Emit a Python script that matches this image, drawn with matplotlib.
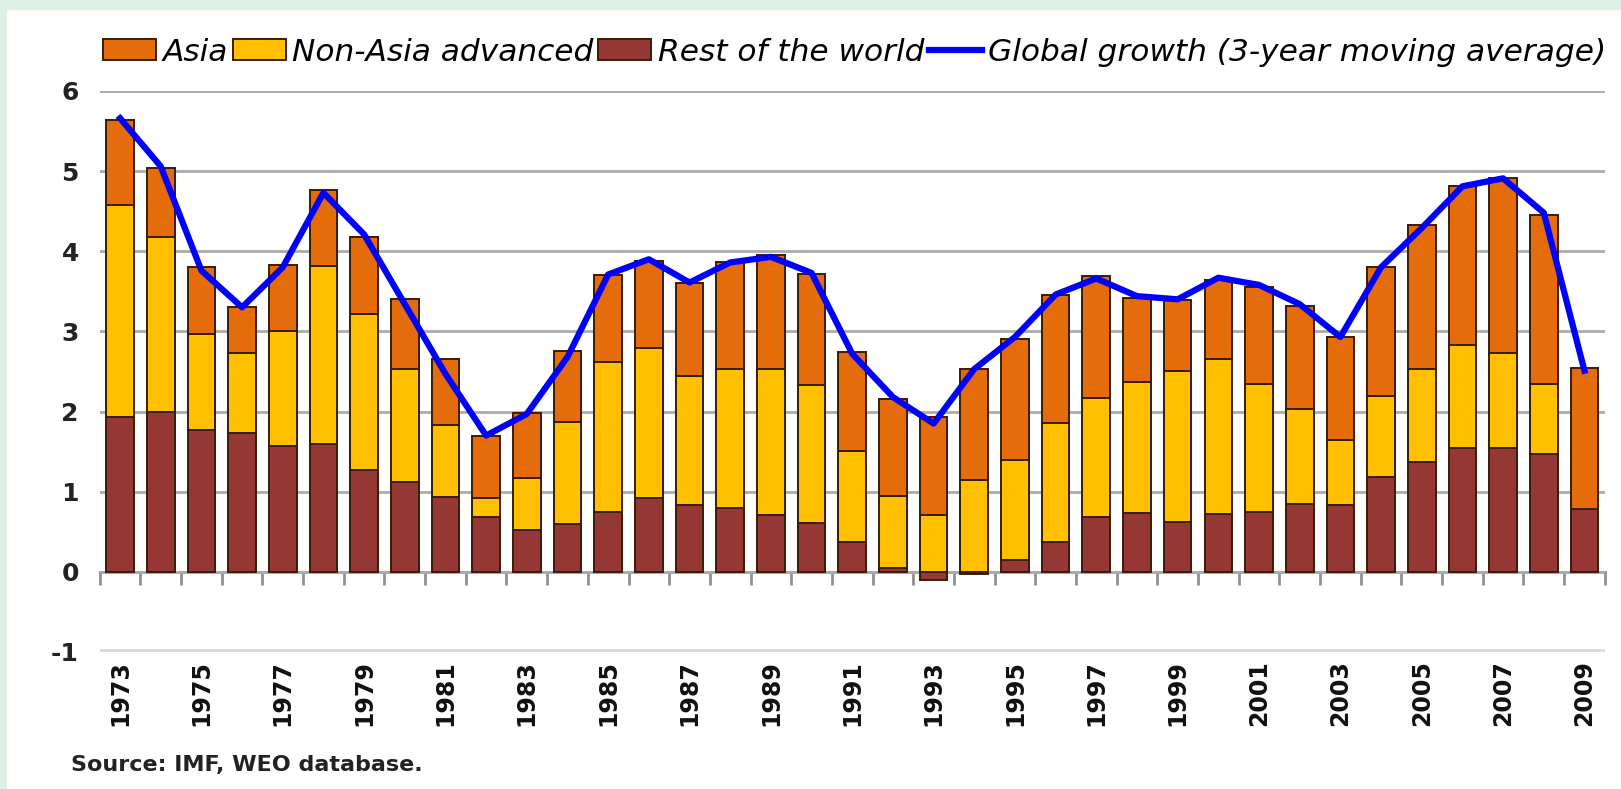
import numpy as np
import matplotlib
matplotlib.use("Agg")
import matplotlib.pyplot as plt
from matplotlib.patches import Patch, Rectangle
from matplotlib.lines import Line2D

plt.rcParams['font.family'] = ['DejaVu Sans']
plt.rcParams['axes.unicode_minus'] = False

# datos
years = list(range(1973, 2010))
asia = [1.06, 0.86, 0.83, 0.57, 0.83, 0.94, 0.96, 0.87, 0.83, 0.77, 0.81,
        0.89, 1.08, 1.09, 1.16, 1.33, 1.42, 1.39, 1.23, 1.21, 1.22, 1.39,
        1.51, 1.59, 1.52, 1.05, 0.89, 0.98, 1.21, 1.29, 1.29, 1.60, 1.80,
        1.98, 2.19, 2.11, 1.76]
non_asia = [2.65, 2.19, 1.20, 1.00, 1.43, 2.23, 1.95, 1.41, 0.90, 0.24, 0.65,
            1.27, 1.87, 1.87, 1.61, 1.73, 1.82, 1.72, 1.14, 0.90, 0.71, 1.14,
            1.24, 1.49, 1.48, 1.64, 1.88, 1.94, 1.59, 1.18, 0.81, 1.02, 1.16,
            1.29, 1.19, 0.87, 0.00]
rest = [1.93, 1.99, 1.77, 1.73, 1.57, 1.59, 1.27, 1.12, 0.93, 0.68, 0.52,
        0.60, 0.75, 0.92, 0.83, 0.80, 0.71, 0.61, 0.37, 0.05, -0.10, -0.03,
        0.15, 0.37, 0.69, 0.73, 0.62, 0.72, 0.75, 0.85, 0.83, 1.18, 1.37,
        1.54, 1.54, 1.47, 0.78]
global_growth = [5.66, 5.06, 3.76, 3.30, 3.80, 4.73, 4.21, 3.34, 2.47, 1.70,
                 1.97, 2.68, 3.71, 3.90, 3.61, 3.86, 3.93, 3.73, 2.72, 2.18,
                 1.85, 2.53, 2.93, 3.46, 3.66, 3.44, 3.40, 3.67, 3.58, 3.34,
                 2.93, 3.80, 4.29, 4.81, 4.91, 4.48, 2.51]

labels = ['Asia', 'Non-Asia advanced', 'Rest of the world',
          'Global growth (3-year moving average)']
colores = ['#E46C0A', '#FFC000', '#953735']

fig = plt.figure(figsize=(16.21, 7.89), dpi=100, facecolor='white')
# marco verde claro
fig.add_artist(Rectangle((0, 0.988), 1, 0.012, transform=fig.transFigure,
                         color='#ddf0e6', zorder=0))
fig.add_artist(Rectangle((0, 0), 0.004, 1, transform=fig.transFigure,
                         color='#ddf0e6', zorder=0))

ax = fig.add_axes([0.0615, 0.1737, 0.9285, 0.711])
x = np.arange(len(years))

# barras apiladas (negativos por debajo del cero)
pos_base = np.zeros(len(years))
neg_base = np.zeros(len(years))
for serie, col in [(rest, colores[2]), (non_asia, colores[1]), (asia, colores[0])]:
    v = np.array(serie)
    base = np.where(v >= 0, pos_base, neg_base)
    ax.bar(x, v, bottom=base, width=0.68, color=col, edgecolor='#3a1c05',
           linewidth=1.4, zorder=2)
    pos_base = pos_base + np.where(v >= 0, v, 0)
    neg_base = neg_base + np.where(v < 0, v, 0)

ax.plot(x, global_growth, color='#0000FF', lw=4.5, solid_joinstyle='round',
        zorder=4)

ax.set_xlim(-0.5, len(years) - 0.5)
ax.set_ylim(-1, 6)
ax.set_yticks(range(-1, 7))
ax.yaxis.grid(True, color='#ababab', lw=2, zorder=0)
ax.set_axisbelow(True)
ax.get_ygridlines()[0].set_color('#dcdcdc')
ax.get_ygridlines()[0].set_linewidth(5)
for s in ax.spines.values():
    s.set_visible(False)

ax.tick_params(axis='y', length=0, pad=15, labelsize=18)
for t in ax.get_yticklabels():
    t.set_fontweight('bold')
    t.set_color('#222222')

ax.set_xticks(x[::2])
ax.set_xticklabels([str(y) for y in years[::2]], rotation=90, fontsize=17,
                   fontweight='bold', color='#111111')
ax.tick_params(axis='x', length=0, pad=6)

# eje en el cero con marcas entre barras
sec = ax.secondary_xaxis(1 / 7)
sec.set_xticks(np.arange(len(years) + 1) - 0.5)
sec.set_xticklabels([])
sec.tick_params(axis='x', direction='out', length=9, width=2, color='#909090')
sec.spines['bottom'].set_color('#909090')
sec.spines['bottom'].set_linewidth(2)

handles = [Patch(facecolor=c, edgecolor='#3a1c05', lw=1.4) for c in colores]
handles.append(Line2D([], [], color='#0000FF', lw=4.5))
fig.legend(handles, labels, ncol=4, loc='center left',
           bbox_to_anchor=(0.056, 0.934), frameon=False,
           prop={'style': 'oblique', 'size': 22.5},
           handlelength=1.7, handleheight=0.65, handletextpad=0.2,
           columnspacing=0.15, borderaxespad=0)

fig.text(0.044, 0.030, 'Source: IMF, WEO database.', fontsize=16,
         fontweight='bold', color='#222222', va='center')

fig.savefig('out.png', dpi=100, facecolor=fig.get_facecolor())
